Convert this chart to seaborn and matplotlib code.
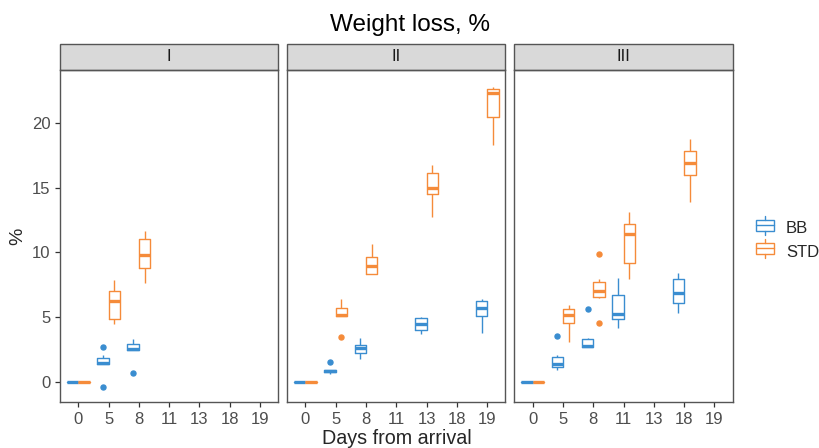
import pandas as pd
import seaborn as sns
import matplotlib.pyplot as plt
from matplotlib.patches import Rectangle
from matplotlib.legend_handler import HandlerBase
from matplotlib.lines import Line2D

# Days on the x axis (shared by all panels)
days = ['0', '5', '8', '11', '13', '18', '19']
groups = ['BB', 'STD']
panels = ['I', 'II', 'III']

# Weight loss (%) per animal: {day: values}
bb_I = {'0': [0, 0, 0, 0, 0],
        '5': [-0.36, 1.35, 1.38, 1.42, 1.47, 1.70, 1.88, 2.06, 2.70],
        '8': [0.69, 2.43, 2.45, 2.50, 2.57, 2.75, 2.93, 3.10, 3.32]}
std_I = {'0': [0, 0, 0, 0, 0],
         '5': [4.43, 4.70, 4.86, 5.60, 6.23, 6.70, 7.05, 7.50, 7.90],
         '8': [7.62, 8.30, 8.78, 9.30, 9.78, 10.40, 10.99, 11.30, 11.61]}

bb_II = {'0': [0, 0, 0, 0, 0],
         '5': [0.64, 0.75, 0.80, 0.83, 0.85, 0.90, 0.95, 0.95, 1.52],
         '8': [1.78, 2.05, 2.24, 2.45, 2.63, 2.75, 2.86, 3.10, 3.37],
         '13': [3.66, 3.90, 4.02, 4.25, 4.48, 4.70, 4.92, 4.98, 5.02],
         '19': [3.78, 4.60, 5.07, 5.40, 5.69, 6.00, 6.25, 6.30, 6.38]}
std_II = {'0': [0, 0, 0, 0, 0],
          '5': [3.47, 5.05, 5.07, 5.12, 5.20, 5.45, 5.69, 6.00, 6.41],
          '8': [8.30, 8.32, 8.34, 8.70, 8.98, 9.30, 9.65, 10.10, 10.63],
          '13': [12.72, 13.90, 14.52, 14.75, 14.96, 15.60, 16.14, 16.40, 16.71],
          '19': [18.25, 19.50, 20.44, 21.60, 22.32, 22.45, 22.60, 22.70, 22.78]}

bb_III = {'0': [0, 0, 0, 0, 0],
          '5': [0.90, 1.05, 1.16, 1.30, 1.42, 1.70, 1.96, 2.08, 3.53],
          '8': [2.66, 2.67, 2.68, 2.72, 2.75, 3.00, 3.29, 3.40, 5.61],
          '11': [4.14, 4.50, 4.86, 5.05, 5.23, 6.00, 6.69, 7.30, 7.98],
          '18': [5.33, 5.80, 6.10, 6.50, 6.85, 7.40, 7.95, 8.20, 8.44]}
std_III = {'0': [0, 0, 0, 0, 0],
           '5': [3.06, 4.00, 4.56, 4.90, 5.20, 5.45, 5.64, 5.80, 5.97],
           '8': [4.58, 6.46, 6.54, 6.80, 7.05, 7.40, 7.72, 7.93, 9.88],
           '11': [7.95, 8.60, 9.19, 10.50, 11.40, 11.80, 12.20, 12.70, 13.13],
           '18': [13.87, 15.00, 15.98, 16.40, 16.89, 17.40, 17.84, 18.30, 18.71]}

colors = {'BB': '#3A8DD0', 'STD': '#F58B3A'}

# long table for seaborn
rows = []
for panel, parts in zip(panels, [(bb_I, std_I), (bb_II, std_II), (bb_III, std_III)]):
    for grp, d in zip(groups, parts):
        for day, vals in d.items():
            for v in vals:
                rows.append({'panel': panel, 'group': grp, 'day': day, 'loss': v})
data = pd.DataFrame(rows)

sns.set_style('white')
plt.rcParams['font.family'] = ['Liberation Sans', 'DejaVu Sans']

fig, axes = plt.subplots(1, 3, figsize=(8.19, 4.48), dpi=100, sharey=True)
fig.subplots_adjust(left=0.0733, right=0.8946, bottom=0.1027, top=0.8438, wspace=0.041)

for ax, panel in zip(axes, panels):
    sns.boxplot(data=data[data['panel'] == panel], x='day', y='loss', hue='group',
                order=days, hue_order=groups, palette=colors, fill=False,
                width=0.75, gap=0, linewidth=1, dodge=True, whis=1.5, showcaps=False,
                medianprops={'linewidth': 2.4},
                flierprops={'marker': 'o', 'markersize': 3.6}, ax=ax, legend=False)
    # filled outlier dots like ggplot
    for ln in ax.lines:
        if ln.get_marker() == 'o':
            ln.set_markerfacecolor(ln.get_markeredgecolor())
    ax.set_xlim(-0.6, 6.6)
    ax.set_ylim(-1.55, 24.07)
    ax.set_xlabel('')
    ax.set_ylabel('')
    for s in ax.spines.values():
        s.set_visible(True)
        s.set_color('#555555')
        s.set_linewidth(1)
    ax.tick_params(axis='both', colors='#333333', labelcolor='#4d4d4d',
                   labelsize=12, length=3.5, width=0.9, direction='out')
    ax.tick_params(axis='both', bottom=True, left=(panel == 'I'))
    # facet strip
    ax.add_patch(Rectangle((0, 1), 1, 26 / 332, transform=ax.transAxes, clip_on=False,
                           facecolor='#d9d9d9', edgecolor='#555555', linewidth=1))
    ax.text(0.5, 1 + 13 / 332, panel, transform=ax.transAxes, ha='center', va='center',
            fontsize=12, color='#1a1a1a')

axes[0].set_yticks([0, 5, 10, 15, 20])

fig.suptitle('Weight loss, %', y=0.944, va='center', fontsize=17.5, color='black')
fig.text(0.484, 0.022, 'Days from arrival', ha='center', va='center', fontsize=14.2)
fig.text(0.022, 0.473, '%', ha='center', va='center', rotation=90, fontsize=14)


class BoxKey(HandlerBase):
    def create_artists(self, legend, orig, xd, yd, w, h, fs, trans):
        c = orig.get_color()
        cx = xd + w / 2
        box = Rectangle((xd + w * 0.1, yd + h * 0.1), w * 0.8, h * 0.8,
                        facecolor='white', edgecolor=c, linewidth=1, transform=trans)
        mid = Line2D([xd + w * 0.1, xd + w * 0.9], [yd + h * 0.5] * 2, color=c, lw=1, transform=trans)
        top = Line2D([cx, cx], [yd + h * 0.9, yd + h * 1.2], color=c, lw=1, transform=trans)
        bot = Line2D([cx, cx], [yd - h * 0.2, yd + h * 0.1], color=c, lw=1, transform=trans)
        return [box, mid, top, bot]


handles = [Line2D([], [], color=colors[g]) for g in groups]
fig.legend(handles, groups, loc='center left', bbox_to_anchor=(0.921, 0.464), frameon=False,
           fontsize=12, handler_map={Line2D: BoxKey()}, handlelength=1.3, handleheight=0.9,
           labelspacing=0.45, handletextpad=0.6, borderaxespad=0, borderpad=0)

plt.savefig('out.png', dpi=100)
